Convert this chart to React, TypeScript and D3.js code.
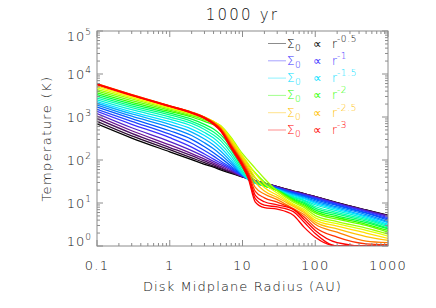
import * as d3 from "d3";

const radius = [0.1, 0.3, 1, 2, 3, 4, 5, 7, 10, 12, 15, 20, 30, 50, 70, 100, 200, 500, 1000];

// midplane temperature (K), one array per surface density slope, from r^-0.5 (black) to r^-3 (red)
const temp00 = [692, 324, 155, 102, 79, 68, 59, 49, 40, 37, 33, 29, 24, 19, 16.6, 14.1, 10.2, 6.9, 5.2];
const temp01 = [794, 363, 174, 112, 87, 72, 63, 51, 41, 37, 33, 29, 24, 19, 16.6, 14.1, 10, 6.8, 5.1];
const temp02 = [912, 417, 195, 126, 95, 78, 66, 52, 41, 37, 33, 29, 24, 18.6, 16.2, 13.8, 10, 6.8, 5.1];
const temp03 = [1047, 479, 224, 141, 105, 85, 71, 55, 41, 37, 33, 29, 23.4, 18.6, 16.2, 13.8, 9.8, 6.6, 5.0];
const temp04 = [1202, 562, 269, 166, 120, 93, 78, 58, 42, 37, 33, 29, 23.4, 18.2, 15.8, 13.5, 9.8, 6.6, 4.9];
const temp05 = [1349, 676, 331, 200, 138, 105, 85, 62, 42, 37, 32, 28, 22.9, 17.8, 15.5, 13.2, 9.5, 6.3, 4.6];
const temp06 = [1514, 794, 398, 245, 166, 123, 95, 66, 43, 36, 32, 27.5, 22.4, 17.4, 15.1, 12.6, 9.1, 6.0, 4.3];
const temp07 = [1698, 912, 479, 302, 204, 148, 112, 72, 44, 36, 31, 27, 21.9, 17, 14.5, 12, 8.7, 5.8, 4.0];
const temp08 = [1905, 1047, 575, 372, 251, 182, 135, 81, 45, 35.5, 30, 26.3, 21.4, 16.2, 13.8, 11.2, 8.1, 5.4, 3.7];
const temp09 = [2089, 1175, 676, 447, 309, 224, 162, 91, 46, 35, 29.5, 25.7, 20.9, 15.5, 13.2, 10.5, 7.6, 5.0, 3.5];
const temp10 = [2291, 1318, 776, 525, 372, 269, 195, 105, 47, 35, 29, 25, 20.4, 14.8, 12.6, 9.8, 7.1, 4.7, 3.2];
const temp11 = [2512, 1479, 891, 617, 437, 324, 234, 123, 50, 35.5, 29, 25, 20, 14.1, 11.7, 9.1, 6.6, 4.4, 3.0];
const temp12 = [2754, 1660, 1000, 708, 513, 380, 282, 145, 55, 37, 29.5, 25, 20, 13.5, 11.2, 8.3, 6.0, 4.1, 2.8];
const temp13 = [3020, 1820, 1122, 794, 589, 447, 331, 170, 63, 41, 30, 25, 20, 12.9, 10.5, 7.6, 5.5, 3.8, 2.6];
const temp14 = [3311, 1995, 1230, 891, 676, 525, 389, 200, 76, 48, 32, 25, 20, 12.3, 9.8, 6.9, 5.0, 3.5, 2.5];
const temp15 = [3631, 2188, 1349, 1000, 790, 660, 530, 260, 100, 63, 38, 26.3, 19.5, 11.7, 9.1, 6.3, 4.6, 3.2, 2.3];
const temp16 = [3981, 2399, 1445, 1070, 860, 720, 580, 295, 118, 78, 50, 31, 19.5, 11.2, 8.5, 5.8, 4.2, 3.0, 2.1];
const temp17 = [4365, 2630, 1549, 1140, 930, 780, 630, 330, 140, 98, 64, 37, 19, 10.5, 7.9, 5.1, 3.7, 2.6, 1.9];
const temp18 = [4786, 2818, 1622, 1190, 970, 790, 620, 310, 125, 82, 48, 28, 17, 9.5, 7.1, 4.5, 3.3, 2.3, 1.7];
const temp19 = [5248, 3020, 1698, 1230, 990, 780, 600, 285, 115, 72, 39, 23, 15.1, 8.9, 6.5, 4.0, 2.9, 2.0, 1.5];
const temp20 = [5754, 3236, 1778, 1270, 1000, 770, 580, 260, 105, 63, 31, 19, 13.5, 8.3, 6.0, 3.6, 2.5, 1.66, 1.35];
const temp21 = [5957, 3311, 1820, 1300, 1000, 750, 550, 235, 93, 55, 23, 16.2, 12, 7.4, 5.4, 3.2, 2.1, 1.3, 1.2];
const temp22 = [5888, 3311, 1820, 1290, 985, 730, 525, 218, 86, 49, 18.6, 13.2, 10.5, 7.2, 4.8, 2.7, 1.6, 1.12, 1.07];
const temp23 = [5821, 3236, 1799, 1270, 965, 710, 500, 204, 79, 44, 15.1, 10.7, 9.1, 7.1, 4.2, 2.3, 1.2, 1, 1];
const temp24 = [5754, 3236, 1778, 1250, 945, 690, 485, 193, 74, 40, 12.6, 8.9, 8.1, 6.3, 3.6, 1.95, 1, 1, 1];
const temp25 = [5689, 3162, 1758, 1230, 925, 670, 470, 183, 70, 37, 10.5, 7.8, 7.2, 5.2, 2.75, 1.6, 1, 1, 1];

const curves = [
  temp00, temp01, temp02, temp03, temp04, temp05, temp06, temp07, temp08, temp09,
  temp10, temp11, temp12, temp13, temp14, temp15, temp16, temp17, temp18, temp19,
  temp20, temp21, temp22, temp23, temp24, temp25,
];

// legend: which curve it samples and the power-law exponent
const legendCurve = [0, 5, 10, 15, 20, 25];
const legendExp = ["-0.5", "-1", "-1.5", "-2", "-2.5", "-3"];

const xTickLabels = ["0.1", "1", "10", "100", "1000"];
const yTickExp = ["0", "1", "2", "3", "4", "5"];

const W = 436;
const H = 308;
const margin = { top: 31, right: 48, bottom: 62, left: 97 };
const font = "'DejaVu Sans', sans-serif";
const axisColor = "#8c8c8c";
const textColor = "#111";

// IDL-ish rainbow colour table
const color = d3
  .scaleLinear<string>()
  .domain([0, 1, 3, 5, 7, 9, 10, 12, 14, 15, 17, 18, 19, 20, 21, 22, 23, 25])
  .range([
    "#000000", "#2a0a30", "#6a1490", "#3a30ff", "#0058ff", "#00b0ff", "#00e0ff",
    "#00ffb0", "#00ff40", "#30ff00", "#a0ff00", "#e0ff00", "#ffe000", "#ffc000",
    "#ff8000", "#ff3000", "#ff0000", "#ff0000",
  ]);

export default function App() {
  const x = d3.scaleLog().domain([0.1, 1000]).range([margin.left, W - margin.right]);
  const y = d3.scaleLog().domain([1, 1e5]).range([H - margin.bottom, margin.top]);
  const [x0, x1] = x.range();
  const [y0, y1] = y.range();

  const line = d3
    .line<number>()
    .x((_, i) => x(radius[i]))
    .y((d) => y(Math.max(d, 1)))
    .curve(d3.curveMonotoneX);

  const xTicks = x.ticks();
  const yTicks = y.ticks();
  const isMajor = (v: number) => Math.abs(Math.log10(v) - Math.round(Math.log10(v))) < 1e-6;

  return (
    <svg width={W} height={H} style={{ position: "absolute", left: 0, top: 0, background: "#fff" }}>
      <defs>
        <clipPath id="plot">
          <rect x={x0} y={y1} width={x1 - x0} height={y0 - y1} />
        </clipPath>
      </defs>

      {/* curves */}
      <g clipPath="url(#plot)">
        {curves.map((c, i) => (
          <path key={i} d={line(c) ?? ""} fill="none" stroke={color(i)} strokeWidth={1.3} />
        ))}
      </g>

      {/* frame + ticks */}
      <rect x={x0} y={y1} width={x1 - x0} height={y0 - y1} fill="none" stroke={axisColor} strokeWidth={1} />
      {xTicks.map((t, i) => {
        const len = isMajor(t) ? 6 : 3;
        return (
          <g key={"xt" + i} stroke={axisColor}>
            <line x1={x(t)} x2={x(t)} y1={y0} y2={y0 - len} />
            <line x1={x(t)} x2={x(t)} y1={y1} y2={y1 + len} />
          </g>
        );
      })}
      {yTicks.map((t, i) => {
        const len = isMajor(t) ? 6 : 3;
        return (
          <g key={"yt" + i} stroke={axisColor}>
            <line x1={x0} x2={x0 + len} y1={y(t)} y2={y(t)} />
            <line x1={x1} x2={x1 - len} y1={y(t)} y2={y(t)} />
          </g>
        );
      })}

      {/* x tick labels */}
      {xTickLabels.map((s) => (
        <text
          key={s}
          x={x(+s)}
          y={270}
          textAnchor="middle"
          fontFamily={font}
          fontSize={13}
          fontWeight={300}
          letterSpacing={1.2}
          fill={textColor}
        >
          {s}
        </text>
      ))}

      {/* y tick labels */}
      {yTickExp.map((e) => {
        const cy = Math.min(Math.max(y(Math.pow(10, +e)), 36), 241);
        return (
          <text
            key={e}
            x={92}
            y={cy + 5}
            textAnchor="end"
            fontFamily={font}
            fontSize={13}
            fontWeight={300}
            letterSpacing={1}
            fill={textColor}
          >
            10
            <tspan fontSize={9} dy={-6}>
              {e}
            </tspan>
          </text>
        );
      })}

      {/* titles */}
      <text
        x={(x0 + x1) / 2}
        y={20}
        textAnchor="middle"
        fontFamily={font}
        fontSize={15}
        fontWeight={300}
        letterSpacing={2.2}
        fill={textColor}
      >
        1000 yr
      </text>
      <text
        x={(x0 + x1) / 2}
        y={291}
        textAnchor="middle"
        fontFamily={font}
        fontSize={13}
        fontWeight={300}
        letterSpacing={1.1}
        fill={textColor}
      >
        Disk Midplane Radius (AU)
      </text>
      <text
        transform={`translate(51, ${(y0 + y1) / 2}) rotate(-90)`}
        textAnchor="middle"
        fontFamily={font}
        fontSize={13}
        fontWeight={300}
        letterSpacing={1.4}
        fill={textColor}
      >
        Temperature (K)
      </text>

      {/* legend */}
      {legendExp.map((e, k) => {
        const cy = 43.5 + k * 17.3;
        const c = color(legendCurve[k]);
        return (
          <g key={"lg" + k} fontFamily={font} fontWeight={300} fill={c}>
            <line x1={268} x2={286} y1={cy} y2={cy} stroke={c} strokeOpacity={0.45} strokeWidth={1} />
            <text y={cy + 4} fontSize={12}>
              <tspan x={287}>Σ</tspan>
              <tspan x={295} dy={3} fontSize={9}>
                0
              </tspan>
              <tspan x={313} dy={-3}>
                ∝
              </tspan>
              <tspan x={332}>r</tspan>
              <tspan x={337} dy={-6} fontSize={9} letterSpacing={0.6}>
                {e}
              </tspan>
            </text>
          </g>
        );
      })}
    </svg>
  );
}
